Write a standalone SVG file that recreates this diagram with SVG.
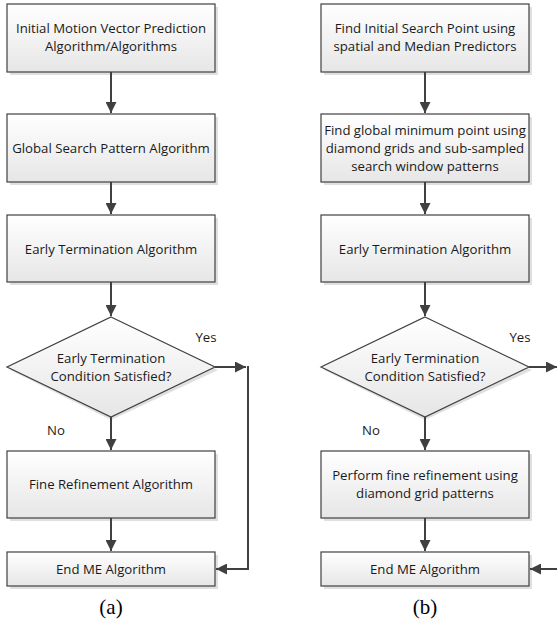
<svg xmlns="http://www.w3.org/2000/svg" width="557" height="623" viewBox="0 0 557 623">
<defs>
<linearGradient id="g" x1="0" y1="0" x2="0" y2="1">
<stop offset="0" stop-color="#ffffff"/>
<stop offset="1" stop-color="#e6e6e6"/>
</linearGradient>
<marker id="ah" markerWidth="11" markerHeight="11" viewBox="0 0 11 11" refX="11" refY="5.5" orient="auto" markerUnits="userSpaceOnUse">
<path d="M0,0 L11,5.5 L0,11 Z" fill="#404040"/>
</marker>
</defs>
<style>
.sh{fill:#e0e0e0;}
.bx{fill:url(#g);stroke:#404040;stroke-width:1.2;}
.t{font-family:"Open Sans","Liberation Sans",sans-serif;font-size:13.2px;fill:#1a1a1a;text-anchor:middle;}
.c{fill:none;stroke:#404040;stroke-width:2;}
.cap{font-family:"Liberation Serif",serif;font-size:21px;fill:#000;text-anchor:middle;}
</style>
<rect width="557" height="623" fill="#fff"/>

<g id="a1"><rect class="sh" x="10" y="7" width="208" height="68"/><rect class="bx" x="7" y="4" width="208" height="68"/>
<text class="t" x="111" y="33">Initial Motion Vector Prediction</text><text class="t" x="111" y="51">Algorithm/Algorithms</text></g>
<g id="a2"><rect class="sh" x="10" y="117" width="208" height="68"/><rect class="bx" x="7" y="114" width="208" height="68"/>
<text class="t" x="111" y="153">Global Search Pattern Algorithm</text></g>
<g id="a3"><rect class="sh" x="10" y="218" width="208" height="67"/><rect class="bx" x="7" y="215" width="208" height="67"/>
<text class="t" x="111" y="254">Early Termination Algorithm</text></g>
<g id="a4"><polygon class="sh" points="111,320 218,370 111,420 10,370"/><polygon class="bx" points="111,317 215,367 111,417 7,367"/>
<text class="t" x="111" y="363">Early Termination</text><text class="t" x="111" y="381">Condition Satisfied?</text></g>
<g id="a5"><rect class="sh" x="10" y="454" width="208" height="67"/><rect class="bx" x="7" y="451" width="208" height="67"/>
<text class="t" x="111" y="489">Fine Refinement Algorithm</text></g>
<g id="a6"><rect class="sh" x="10" y="555" width="208" height="34"/><rect class="bx" x="7" y="552" width="208" height="34"/>
<text class="t" x="111" y="574">End ME Algorithm</text></g>

<g id="b1"><rect class="sh" x="324" y="7" width="208" height="68"/><rect class="bx" x="321" y="4" width="208" height="68"/>
<text class="t" x="425" y="33">Find Initial Search Point using</text><text class="t" x="425" y="51">spatial and Median Predictors</text></g>
<g id="b2"><rect class="sh" x="324" y="117" width="208" height="68"/><rect class="bx" x="321" y="114" width="208" height="68"/>
<text class="t" x="425" y="135">Find global minimum point using</text><text class="t" x="425" y="153">diamond grids and sub-sampled</text><text class="t" x="425" y="171">search window patterns</text></g>
<g id="b3"><rect class="sh" x="324" y="218" width="208" height="67"/><rect class="bx" x="321" y="215" width="208" height="67"/>
<text class="t" x="425" y="254">Early Termination Algorithm</text></g>
<g id="b4"><polygon class="sh" points="425,320 532,370 425,420 324,370"/><polygon class="bx" points="425,317 529,367 425,417 321,367"/>
<text class="t" x="425" y="363">Early Termination</text><text class="t" x="425" y="381">Condition Satisfied?</text></g>
<g id="b5"><rect class="sh" x="324" y="454" width="208" height="67"/><rect class="bx" x="321" y="451" width="208" height="67"/>
<text class="t" x="425" y="480">Perform fine refinement using</text><text class="t" x="425" y="498">diamond grid patterns</text></g>
<g id="b6"><rect class="sh" x="324" y="555" width="208" height="34"/><rect class="bx" x="321" y="552" width="208" height="34"/>
<text class="t" x="425" y="574">End ME Algorithm</text></g>

<g id="connectors">
<path class="c" d="M111,72 V113" marker-end="url(#ah)"/>
<path class="c" d="M111,182 V214" marker-end="url(#ah)"/>
<path class="c" d="M111,282 V316" marker-end="url(#ah)"/>
<path class="c" d="M111,417 V450" marker-end="url(#ah)"/>
<path class="c" d="M111,518 V551" marker-end="url(#ah)"/>
<path class="c" d="M215,367 H246" marker-end="url(#ah)"/>
<path class="c" d="M248,366 V569 H216" marker-end="url(#ah)"/>
<path class="c" d="M425,72 V113" marker-end="url(#ah)"/>
<path class="c" d="M425,182 V214" marker-end="url(#ah)"/>
<path class="c" d="M425,282 V316" marker-end="url(#ah)"/>
<path class="c" d="M425,417 V450" marker-end="url(#ah)"/>
<path class="c" d="M425,518 V551" marker-end="url(#ah)"/>
<path class="c" d="M529,367 H557" marker-end="url(#ah)"/>
<path class="c" d="M560,569 H530" marker-end="url(#ah)"/>
</g>

<text class="t" x="206" y="342">Yes</text>
<text class="t" x="56" y="435">No</text>
<text class="t" x="520" y="342">Yes</text>
<text class="t" x="371" y="435">No</text>
<text class="cap" x="111" y="614">(a)</text>
<text class="cap" x="425" y="614">(b)</text>
</svg>
